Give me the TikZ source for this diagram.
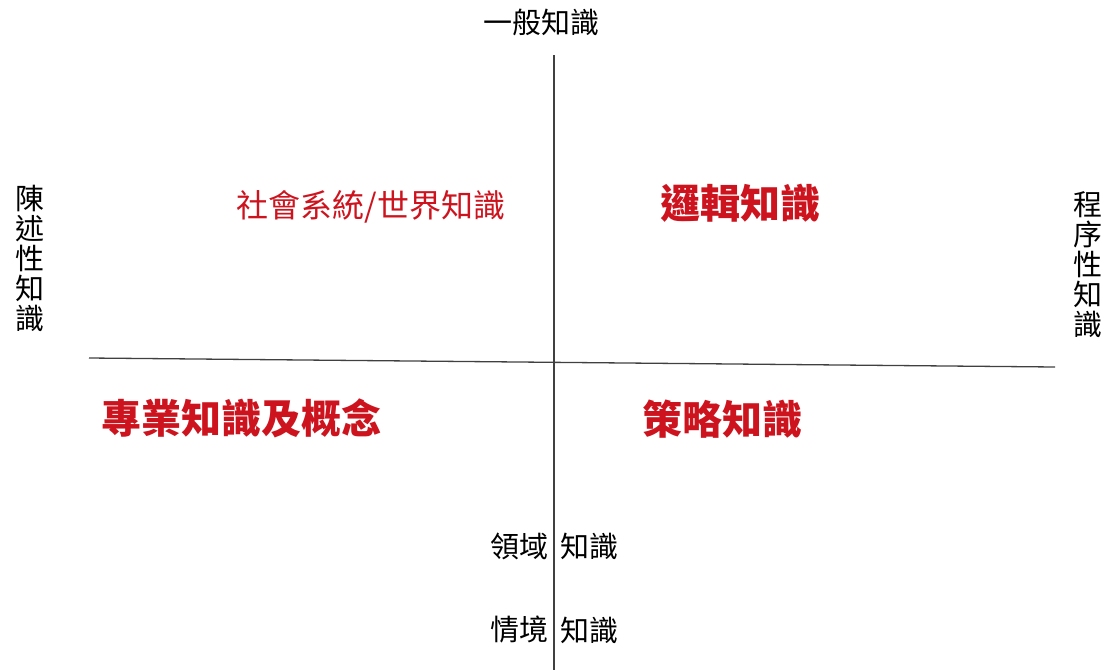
\documentclass[tikz,border=0pt]{standalone}
\usepackage{fontspec}
\newfontfamily\cjk{Noto Sans CJK TC}
\usepackage{xcolor}
\definecolor{kred}{RGB}{205,20,30}
\usepackage{tikz}
\usetikzlibrary{positioning}

\begin{document}
\begin{tikzpicture}[x=1pt, y=-1pt]
\tikzset{axislabel/.style = {inner sep=0, font=\cjk\fontsize{29}{30}\selectfont, align=center},
         quad/.style = {inner sep=0, text=kred, font=\cjk\bfseries\fontsize{40}{44}\selectfont},
         axis/.style = {draw=black!75, line width=1.3pt}}
\useasboundingbox (0,0) rectangle (1112,670);
            % axis labels
	\node[axislabel] (top) at (541,22) {一般知識};
	\node[axislabel] (left) at (30,258) {陳\\述\\性\\知\\識};
	\node[axislabel] (right) at (1088,265) {程\\序\\性\\知\\識};
	\node[axislabel] (dom1) at (519,546) {領域};
	\node[axislabel] (dom2) at (589,546) {知識};
	\node[axislabel] (sit1) at (519,630) {情境};
	\node[axislabel] (sit2) at (589,630) {知識};
            % quadrants
	\node[quad, font=\cjk\fontsize{32}{34}\selectfont] (soc) at (371,207) {社會系統/世界知識};
	\node[quad] (logic) at (740,203) {邏輯知識};
	\node[quad] (prof) at (241,418) {專業知識及概念};
	\node[quad] (strat) at (722,419) {策略知識};
            % axes
	\coordinate (vtop) at (554,55);
	\coordinate (vbot) at (554,670);
	\coordinate (hleft) at (89,358);
	\coordinate (hright) at (1055,367);
	\draw[axis] (vtop) -- (vbot);
	\draw[axis] (hleft) -- (hright);
\end{tikzpicture}
\end{document}
